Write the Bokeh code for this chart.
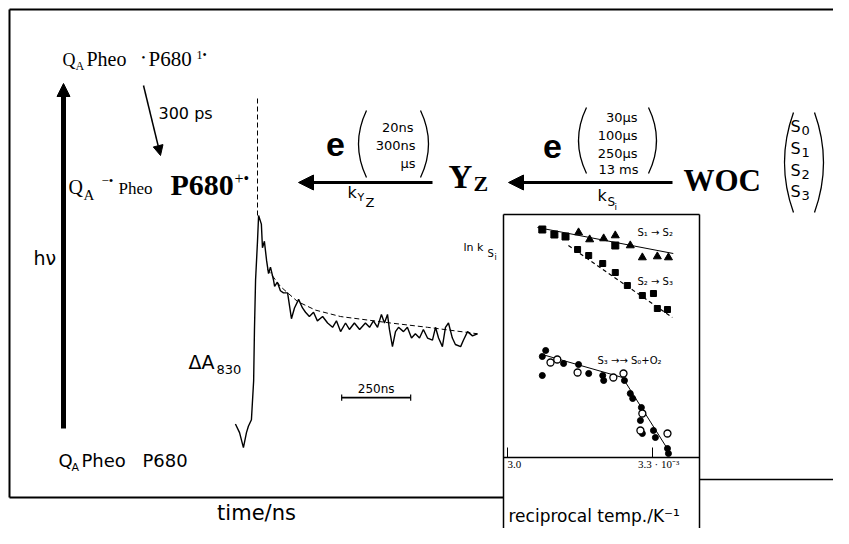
from bokeh.plotting import figure
from bokeh.models import Range1d, Arrow, NormalHead
from bokeh.core.properties import value
from bokeh.embed import file_html
from bokeh.resources import INLINE

# ---------------- data ----------------
# Transient absorption at 830 nm (P680+ reduction), time in ns, dA in relative units
trace_t_ns = [-80, -65, -51, -40, -33, -22, -14, -11, -7, 0, 4, 14, 18, 25, 33, 40, 47, 58, 62,
              72, 83, 94, 109, 123, 134, 149, 163, 174, 188, 203, 217, 236, 254, 272, 286, 301,
              319, 333, 351, 370, 391, 406, 420, 435, 449, 460, 471, 478, 489, 500, 511, 529,
              543, 558, 572, 587, 601, 616, 634, 645, 656, 670, 681, 692, 706, 717, 736, 746,
              761, 779, 797]
trace_dA = [0.03, -0.01, -0.08, -0.01, 0.02, 0.05, 0.23, 0.47, 0.70, 0.88, 1.00, 0.96, 0.85, 0.88,
            0.79, 0.73, 0.76, 0.70, 0.67, 0.69, 0.65, 0.64, 0.64, 0.52, 0.57, 0.61, 0.57, 0.55,
            0.53, 0.55, 0.51, 0.53, 0.50, 0.48, 0.51, 0.46, 0.50, 0.47, 0.50, 0.47, 0.50, 0.48,
            0.51, 0.48, 0.54, 0.50, 0.54, 0.47, 0.39, 0.46, 0.48, 0.46, 0.48, 0.43, 0.45, 0.43,
            0.47, 0.43, 0.42, 0.48, 0.43, 0.39, 0.48, 0.50, 0.43, 0.40, 0.39, 0.42, 0.46, 0.44,
            0.45]
fit_t_ns = [36, 83, 145, 210, 301, 482, 616, 797]
fit_dA = [0.75, 0.67, 0.60, 0.56, 0.53, 0.50, 0.48, 0.45]
flash_marker_dA = [1.0, 1.55]
scalebar_start_ns = 305
scalebar_len_ns = 250
scalebar_dA = 0.153

# Inset: Arrhenius plot, x = reciprocal temperature (10^-3 K^-1), y = ln k
s12_sq_x = [3.072, 3.097, 3.120, 3.223]
s12_sq_y = [9.70, 9.575, 9.525, 9.30]
s12_tri_x = [3.147, 3.170, 3.199, 3.223, 3.254, 3.279, 3.310, 3.333]
s12_tri_y = [9.625, 9.45, 9.475, 9.55, 9.30, 9.00, 9.025, 9.00]
s12_fit_x = [3.062, 3.343]
s12_fit_y = [9.75, 9.10]

s23_x = [3.145, 3.168, 3.197, 3.223, 3.248, 3.279, 3.302, 3.310, 3.331]
s23_y = [9.20, 9.05, 8.85, 8.625, 8.30, 8.05, 8.10, 7.725, 7.70]
s23_fit_x = [3.126, 3.341]
s23_fit_y = [9.30, 7.50]

s30_open_x = [3.089, 3.103, 3.145, 3.219, 3.240, 3.279, 3.275, 3.331]
s30_open_y = [6.375, 6.45, 6.125, 6.00, 6.10, 5.10, 4.675, 4.60]
s30_fill_x = [3.072, 3.079, 3.072, 3.116, 3.147, 3.168, 3.197, 3.199, 3.242, 3.254, 3.259,
              3.277, 3.275, 3.279, 3.302, 3.306, 3.331, 3.333]
s30_fill_y = [6.525, 6.675, 6.05, 6.35, 6.325, 6.10, 6.05, 5.925, 5.925, 5.60, 5.475,
              5.25, 4.925, 4.60, 4.675, 4.50, 4.225, 4.10]
s30_fit_x = [3.072, 3.238, 3.337]
s30_fit_y = [6.575, 6.00, 4.10]

inset_ticks = [3.0, 3.3]
inset_tick_labels = ["3.0", "3.3 · 10⁻³"]

# ---------------- layout ----------------
W, H = 833, 528
X_LEFT, X_RIGHT, Y_TOP, Y_BOT = 0, W, 0, H

# trace axes placement
T0_PX, NS_PER_PX = 257, 250 / 69
DA0_PX, PX_PER_DA = 430, 215
# inset axes placement
INV0_PX, PX_PER_INV = 507, 145 / 0.3
LNK0_PX, PX_PER_LNK = 457, 40

SERIF = "Liberation Serif"
SANS = "DejaVu Sans"
BASE_SHIFT = 0.31   # svg text sits ~0.31 em low; compensate

p = figure(width=W, height=H, output_backend="svg", toolbar_location=None,
           x_range=Range1d(X_LEFT, X_RIGHT), y_range=Range1d(Y_BOT, Y_TOP),
           x_axis_type=None, y_axis_type=None, min_border=0,
           background_fill_color="white", border_fill_color="white")
p.outline_line_color = None
p.xgrid.visible = False
p.ygrid.visible = False

p.extra_x_ranges = {
    "t": Range1d((X_LEFT - T0_PX) * NS_PER_PX, (X_RIGHT - T0_PX) * NS_PER_PX),
    "invT": Range1d(3.0 + (X_LEFT - INV0_PX) / PX_PER_INV, 3.0 + (X_RIGHT - INV0_PX) / PX_PER_INV),
}
p.extra_y_ranges = {
    "dA": Range1d((DA0_PX - Y_BOT) / PX_PER_DA, (DA0_PX - Y_TOP) / PX_PER_DA),
    "lnk": Range1d(4.0 + (LNK0_PX - Y_BOT) / PX_PER_LNK, 4.0 + (LNK0_PX - Y_TOP) / PX_PER_LNK),
}


def txt(x, y, s, size, font=SANS, style="normal", align="left", px_per_unit=-1.0, **kw):
    # px_per_unit: screen pixels per y data unit (negative for the inverted page range)
    y_adj = y + BASE_SHIFT * size / px_per_unit
    p.text(x=[x], y=[y_adj], text=[s], text_font=value(font), text_font_size=f"{size}px",
           text_font_style=style, text_align=align, text_baseline="alphabetic",
           text_color="black", **kw)


def paren(x_extreme, y0, y1, left=True, w=8, lw=1.3):
    xe = x_extreme + w if left else x_extreme - w
    cx = x_extreme - w if left else x_extreme + w
    p.quadratic(x0=[xe], y0=[y0], x1=[xe], y1=[y1], cx=[cx], cy=[(y0 + y1) / 2],
                line_color="black", line_width=lw)


def arrow(x0, y0, x1, y1, lw, head):
    p.add_layout(Arrow(end=NormalHead(size=head, fill_color="black", line_color="black"),
                       x_start=x0, y_start=y0, x_end=x1, y_end=y1,
                       line_width=lw, line_color="black"))


# frame
p.line([9, 9], [9, 497], line_color="black", line_width=2)
p.line([9, 833], [9, 9], line_color="black", line_width=2)
p.line([9, 503], [497, 497], line_color="black", line_width=2)
p.line([699, 833], [479, 479], line_color="black", line_width=1.5)

# ----- energy scheme -----
arrow(63, 428, 63, 83, 5, 13)
txt(33, 263, "hν", 19)

txt(62, 65, "Q", 18, SERIF)
txt(75, 69, "A", 12, SERIF)
txt(86, 65, "Pheo", 20, SERIF)
txt(141, 60, "•", 11, SERIF)
txt(148, 65, "P680", 21, SERIF)
txt(196, 58, "1•", 12, SERIF)

arrow(143, 85, 160, 155, 1.5, 10)
txt(158, 118, "300 ps", 16)

txt(68, 193, "Q", 20, SERIF)
txt(83, 199, "A", 15, SERIF)
txt(101, 184, "−•", 13, SERIF)
txt(118, 193, "Pheo", 17, SERIF)
txt(170, 193, "P680", 30, SERIF, "bold")
txt(234, 183, "+•", 16, SERIF)

txt(58, 466, "Q", 18)
txt(71, 470, "A", 11)
txt(81, 466, "Pheo", 18)
txt(142, 466, "P680", 18)

# electron transfer arrows
arrow(432, 182, 298, 182, 3, 15)
txt(335, 155, "e", 34, "Liberation Sans", "bold", "center")
paren(358, 110, 177, left=True)
paren(428, 110, 177, left=False)
txt(413, 131, "20ns", 13, align="right")
txt(415, 149, "300ns", 13, align="right")
txt(415, 167, "μs", 13, align="right")
txt(347, 197, "k", 16)
txt(357, 200, "Y", 11)
txt(365, 206, "Z", 13)

txt(448, 187, "Y", 33, SERIF, "bold")
txt(473, 190, "Z", 22, SERIF, "bold")

arrow(672, 182, 508, 182, 3, 15)
txt(552, 157, "e", 34, "Liberation Sans", "bold", "center")
paren(578, 107, 173, left=True)
paren(656, 107, 173, left=False)
txt(637, 121, "30μs", 13, align="right")
txt(637, 139, "100μs", 13, align="right")
txt(637, 157, "250μs", 13, align="right")
txt(638, 173, "13 ms", 13, align="right")
txt(597, 200, "k", 16)
txt(607, 205, "S", 12)
txt(614, 209, "i", 9)

txt(683, 190, "WOC", 31, SERIF, "bold")
paren(784, 112, 212, left=True, w=9)
paren(823, 112, 212, left=False, w=9)
for i, yb in enumerate([131, 153, 175, 196]):
    txt(790, yb, "S", 16)
    txt(801, yb + 3, str(i), 13)

# ----- kinetic trace -----
p.line(x=[0, 0], y=flash_marker_dA, x_range_name="t", y_range_name="dA",
       line_color="black", line_width=1, line_dash="5 3")
p.line(x=trace_t_ns, y=trace_dA, x_range_name="t", y_range_name="dA",
       line_color="black", line_width=1.4)
p.line(x=fit_t_ns, y=fit_dA, x_range_name="t", y_range_name="dA",
       line_color="black", line_width=1, line_dash="5 3")
sb_end = scalebar_start_ns + scalebar_len_ns
p.line(x=[scalebar_start_ns, sb_end], y=[scalebar_dA, scalebar_dA],
       x_range_name="t", y_range_name="dA", line_color="black", line_width=1.6)
p.segment(x0=[scalebar_start_ns, sb_end], y0=[scalebar_dA - 0.015] * 2,
          x1=[scalebar_start_ns, sb_end], y1=[scalebar_dA + 0.015] * 2,
          x_range_name="t", y_range_name="dA", line_color="black", line_width=1.2)
txt(scalebar_start_ns + scalebar_len_ns / 2, scalebar_dA + 0.025, "250ns", 12,
    align="center", px_per_unit=PX_PER_DA, x_range_name="t", y_range_name="dA")
txt(188, 367, "ΔA", 19)
txt(216, 373, "830", 13)
txt(256, 519, "time/ns", 21, align="center")

# ----- inset -----
p.line([503, 503], [214, 528], line_color="black", line_width=1.5)
p.line([699, 699], [214, 528], line_color="black", line_width=1.5)
p.line([503, 699], [214, 214], line_color="black", line_width=1.5)
p.line([503, 699], [457, 457], line_color="black", line_width=1.5)
p.segment(x0=inset_ticks, y0=[4.0] * 2, x1=inset_ticks, y1=[4.25] * 2,
          x_range_name="invT", y_range_name="lnk", line_color="black", line_width=1)
txt(inset_ticks[0], 3.75, inset_tick_labels[0], 11, SERIF, px_per_unit=PX_PER_LNK,
    x_range_name="invT", y_range_name="lnk")
txt(inset_ticks[1] - 0.03, 3.75, inset_tick_labels[1], 11, SERIF, px_per_unit=PX_PER_LNK,
    x_range_name="invT", y_range_name="lnk")
txt(508, 521, "reciprocal temp./K⁻¹", 17)
txt(463, 250, "ln k", 11)
txt(487, 256, "S", 10)
txt(494, 259, "i", 8)

kw = dict(x_range_name="invT", y_range_name="lnk")
p.line(s12_fit_x, s12_fit_y, line_color="black", line_width=1, **kw)
p.line(s23_fit_x, s23_fit_y, line_color="black", line_width=1.2, line_dash="4 3", **kw)
p.line(s30_fit_x, s30_fit_y, line_color="black", line_width=1, **kw)
p.scatter(s12_sq_x, s12_sq_y, marker="square", size=7, color="black", **kw)
p.scatter(s12_tri_x, s12_tri_y, marker="triangle", size=8, color="black", **kw)
p.scatter(s23_x, s23_y, marker="square", size=6, color="black", **kw)
p.scatter(s30_fill_x, s30_fill_y, marker="circle", size=6, color="black", **kw)
p.scatter(s30_open_x, s30_open_y, marker="circle", size=7, fill_color="white",
          line_color="black", line_width=1.3, **kw)
txt(637, 235, "S₁ → S₂", 10)
txt(637, 284, "S₂ → S₃", 10)
txt(597, 363, "S₃ →→ S₀+O₂", 10)

open("out.html", "w").write(file_html(p, INLINE, "PSII electron transfer"))
